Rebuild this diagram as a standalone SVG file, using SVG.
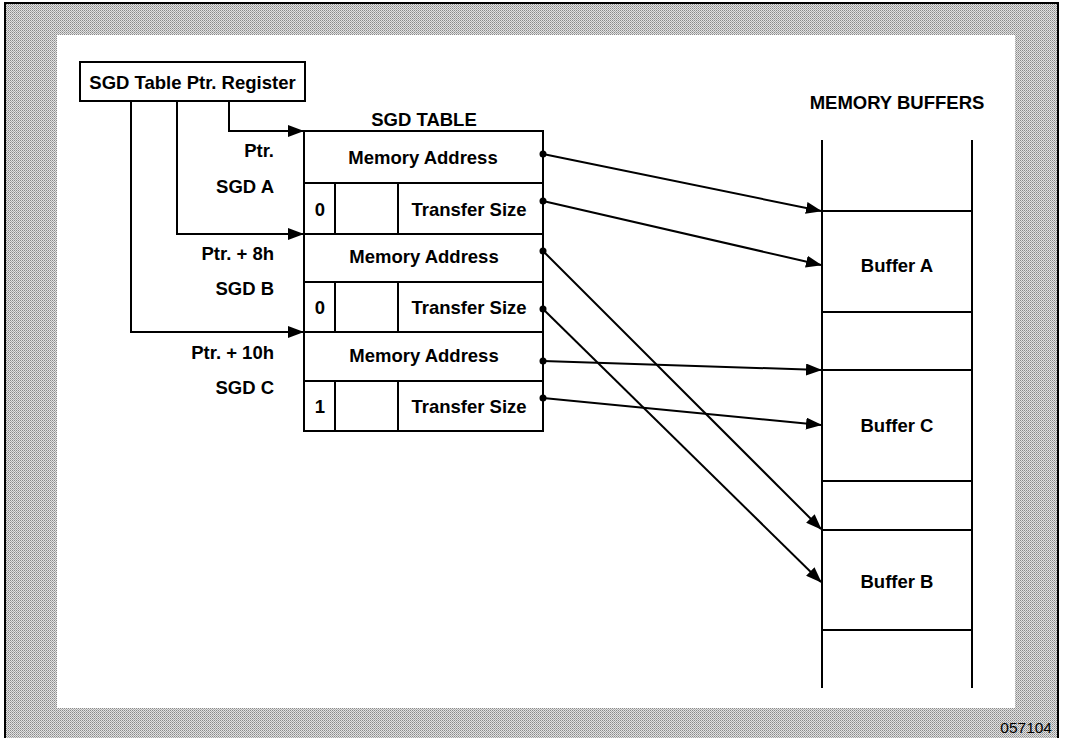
<svg xmlns="http://www.w3.org/2000/svg" width="1065" height="738" viewBox="0 0 1065 738">
<defs>
<pattern id="ht" width="2" height="2" patternUnits="userSpaceOnUse">
<rect width="2" height="2" fill="#e2e2e2"/>
<rect width="1" height="1" fill="#8a8a8a"/>
<rect x="1" y="1" width="1" height="1" fill="#aaaaaa"/>
</pattern>
<marker id="ah" markerWidth="16" markerHeight="12" refX="15" refY="6" orient="auto" markerUnits="userSpaceOnUse">
<path d="M0,0 L16,6 L0,12 Z" fill="#000"/>
</marker>
<style>
.t{font-family:"Liberation Sans",Arial,Helvetica,sans-serif;font-weight:bold;font-size:18.5px;fill:#000}
.s{fill:none;stroke:#000;stroke-width:2}
.c{fill:none;stroke:#000;stroke-width:2;marker-end:url(#ah)}
</style>
</defs>
<rect x="0" y="0" width="1065" height="738" fill="#fff"/>
<rect x="5" y="3" width="1053" height="740" fill="url(#ht)" stroke="#000" stroke-width="2"/>
<rect x="57" y="35" width="958" height="673" fill="#fff"/>
<text x="1052" y="733" text-anchor="end" style="font-family:'Liberation Sans',Arial,sans-serif;font-size:15.5px">057104</text>

<g id="register">
<rect x="80" y="62" width="225" height="39" class="s" fill="#fff"/>
<text x="192.5" y="89" text-anchor="middle" class="t" style="font-size:18.5px">SGD Table Ptr. Register</text>
</g>

<g id="sgd-table">
<text x="424" y="126" text-anchor="middle" class="t">SGD TABLE</text>
<rect x="304" y="131" width="239" height="300" class="s"/>
<line x1="304" y1="183" x2="543" y2="183" class="s"/>
<line x1="304" y1="234" x2="543" y2="234" class="s"/>
<line x1="304" y1="282" x2="543" y2="282" class="s"/>
<line x1="304" y1="332" x2="543" y2="332" class="s"/>
<line x1="304" y1="381" x2="543" y2="381" class="s"/>
<line x1="335" y1="183" x2="335" y2="234" class="s"/>
<line x1="398" y1="183" x2="398" y2="234" class="s"/>
<line x1="335" y1="282" x2="335" y2="332" class="s"/>
<line x1="398" y1="282" x2="398" y2="332" class="s"/>
<line x1="335" y1="381" x2="335" y2="431" class="s"/>
<line x1="398" y1="381" x2="398" y2="431" class="s"/>
<text x="423" y="164" text-anchor="middle" class="t">Memory Address</text>
<text x="424" y="263" text-anchor="middle" class="t">Memory Address</text>
<text x="424" y="362" text-anchor="middle" class="t">Memory Address</text>
<text x="469" y="216" text-anchor="middle" class="t">Transfer Size</text>
<text x="469" y="314" text-anchor="middle" class="t">Transfer Size</text>
<text x="469" y="413" text-anchor="middle" class="t">Transfer Size</text>
<text x="320" y="216" text-anchor="middle" class="t">0</text>
<text x="320" y="314" text-anchor="middle" class="t">0</text>
<text x="320" y="413" text-anchor="middle" class="t">1</text>
</g>

<g id="labels">
<text x="274" y="157" text-anchor="end" class="t">Ptr.</text>
<text x="274" y="193" text-anchor="end" class="t">SGD A</text>
<text x="274" y="260" text-anchor="end" class="t">Ptr. + 8h</text>
<text x="274" y="295" text-anchor="end" class="t">SGD B</text>
<text x="274" y="359" text-anchor="end" class="t">Ptr. + 10h</text>
<text x="274" y="394" text-anchor="end" class="t">SGD C</text>
</g>

<g id="memory-buffers">
<text x="897" y="109" text-anchor="middle" class="t">MEMORY BUFFERS</text>
<line x1="822" y1="140" x2="822" y2="688" class="s"/>
<line x1="972" y1="140" x2="972" y2="688" class="s"/>
<line x1="822" y1="211" x2="972" y2="211" class="s"/>
<line x1="822" y1="312" x2="972" y2="312" class="s"/>
<line x1="822" y1="370" x2="972" y2="370" class="s"/>
<line x1="822" y1="481" x2="972" y2="481" class="s"/>
<line x1="822" y1="530" x2="972" y2="530" class="s"/>
<line x1="822" y1="630" x2="972" y2="630" class="s"/>
<text x="897" y="272" text-anchor="middle" class="t">Buffer A</text>
<text x="897" y="432" text-anchor="middle" class="t">Buffer C</text>
<text x="897" y="588" text-anchor="middle" class="t">Buffer B</text>
</g>

<g id="connectors">
<polyline points="229,101 229,131 303,131" class="c"/>
<polyline points="177,101 177,234 303,234" class="c"/>
<polyline points="131,101 131,332 303,332" class="c"/>
<line x1="543" y1="154" x2="821" y2="211" class="c"/>
<line x1="543" y1="201" x2="821" y2="265" class="c"/>
<line x1="543" y1="251" x2="821" y2="529" class="c"/>
<line x1="543" y1="309" x2="821" y2="582" class="c"/>
<line x1="543" y1="361" x2="821" y2="370" class="c"/>
<line x1="543" y1="398" x2="821" y2="425" class="c"/>
<circle cx="543" cy="154" r="3.5" fill="#000"/>
<circle cx="543" cy="201" r="3.5" fill="#000"/>
<circle cx="543" cy="251" r="3.5" fill="#000"/>
<circle cx="543" cy="309" r="3.5" fill="#000"/>
<circle cx="543" cy="361" r="3.5" fill="#000"/>
<circle cx="543" cy="398" r="3.5" fill="#000"/>
</g>
</svg>
